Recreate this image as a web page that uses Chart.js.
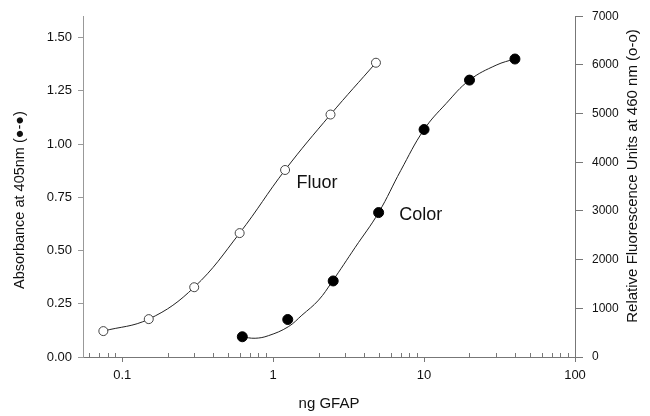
<!DOCTYPE html>
<html>
<head>
<meta charset="utf-8">
<script src="https://cdn.jsdelivr.net/npm/chart.js@4"></script>
<style>
  html,body{margin:0;padding:0;background:#fff;}
  #wrap{width:650px;height:416px;position:relative;}
</style>
</head>
<body>
<div id="wrap"><canvas id="c" width="650" height="416"></canvas></div>
<script>
// ---- data ----
const fluorDose = [0.075, 0.15, 0.3, 0.6, 1.2, 2.4, 4.8];
const fluorRFU  = [532, 778, 1433, 2545, 3841, 4980, 6044];

const colorDose = [0.625, 1.25, 2.5, 5, 10, 20, 40];
const colorAbs  = [0.095, 0.176, 0.357, 0.678, 1.068, 1.30, 1.399];

// fitted curve
const colorCurveDose = [0.62, 0.76, 0.93, 1.26, 1.55, 2.0, 2.45, 3.5, 5, 7, 10, 14, 20, 30, 40];
const colorCurveAbs  = [0.095, 0.088, 0.10, 0.142, 0.196, 0.267, 0.352, 0.515, 0.678, 0.875, 1.068, 1.19, 1.30, 1.37, 1.40];

// axis ticks
const xTicks = [0.1, 1, 10, 100];
const xMinorTicks = [0.06,0.07,0.08,0.09, 0.2,0.3,0.4,0.5,0.6,0.7,0.8,0.9, 2,3,4,5,6,7,8,9, 20,30,40,50,60,70,80,90];
const leftTicks = [0, 0.25, 0.5, 0.75, 1.0, 1.25, 1.5];
const rightTicks = [0, 1000, 2000, 3000, 4000, 5000, 6000, 7000];

// text labels in the plot
const noteText = ['Fluor', 'Color'];
const noteDose = [1.95, 9.5];
const noteAbs  = [0.815, 0.665];

const FONT = "'Liberation Sans', Arial, Helvetica, sans-serif";
const AXIS = '#777';

const pts = (xs, ys) => xs.map((x, i) => ({x: x, y: ys[i]}));

const decor = {
  id: 'decor',
  afterDraw(chart) {
    const {ctx, chartArea, scales} = chart;
    const x = scales.x, y = scales.y;
    ctx.save();
    ctx.strokeStyle = AXIS; ctx.lineWidth = 1;
    ctx.beginPath();
    xMinorTicks.forEach(v => {
      if (v < x.min || v > x.max) return;
      const px = Math.round(x.getPixelForValue(v)) + 0.5;
      ctx.moveTo(px, chartArea.bottom);
      ctx.lineTo(px, chartArea.bottom - 4);
    });
    ctx.stroke();
    ctx.fillStyle = '#111';
    ctx.font = '18px ' + FONT;
    ctx.textAlign = 'center'; ctx.textBaseline = 'middle';
    noteText.forEach((t, i) => {
      ctx.fillText(t, x.getPixelForValue(noteDose[i]), y.getPixelForValue(noteAbs[i]));
    });
    ctx.font = '15px ' + FONT;
    ctx.fillText('ng GFAP', (chartArea.left + chartArea.right) / 2, 404);
    ctx.save();
    ctx.translate(20, 200); ctx.rotate(-Math.PI / 2);
    ctx.font = '14.5px ' + FONT;
    ctx.fillText('Absorbance at 405nm (\u25CF-\u25CF)', 0, 0);
    ctx.restore();
    ctx.save();
    ctx.translate(633, 176); ctx.rotate(-Math.PI / 2);
    ctx.font = '15px ' + FONT;
    ctx.fillText('Relative Fluorescence Units at 460 nm (o-o)', 0, 0);
    ctx.restore();
    ctx.restore();
  }
};

new Chart(document.getElementById('c'), {
  type: 'line',
  data: {
    datasets: [
      { label: 'Color points', data: pts(colorDose, colorAbs), yAxisID: 'y',
        pointRadius: 5, pointBackgroundColor: '#000', pointBorderColor: '#000', pointBorderWidth: 1, showLine: false },
      { label: 'Fluor points', data: pts(fluorDose, fluorRFU), yAxisID: 'y2',
        pointRadius: 4.5, pointBackgroundColor: '#fff', pointBorderColor: '#444', pointBorderWidth: 1, showLine: false },
      { label: 'Color curve', data: pts(colorCurveDose, colorCurveAbs), yAxisID: 'y',
        showLine: true, pointRadius: 0, borderColor: '#222', borderWidth: 1, tension: 0.4, fill: false },
      { label: 'Fluor curve', data: pts(fluorDose, fluorRFU), yAxisID: 'y2',
        showLine: true, pointRadius: 0, borderColor: '#222', borderWidth: 1, tension: 0.4, fill: false }
    ]
  },
  options: {
    responsive: false,
    animation: false,
    devicePixelRatio: 1,
    layout: { padding: { top: 15, left: 0, right: 0, bottom: 0 } },
    plugins: { legend: { display: false }, tooltip: { enabled: false } },
    scales: {
      x: {
        type: 'logarithmic', position: 'bottom', min: 0.055, max: 100,
        afterBuildTicks: s => { s.ticks = xTicks.map(v => ({value: v})); },
        afterFit: s => { s.height = 59; },
        ticks: { color: '#111', font: { size: 13, family: FONT }, padding: 6, maxRotation: 0,
                 callback: v => String(v) },
        grid: { display: true, drawOnChartArea: false, drawTicks: true, tickLength: 5, color: AXIS },
        border: { display: true, color: AXIS, width: 1 },
        title: { display: false }
      },
      y: {
        type: 'linear', position: 'left', min: 0, max: 1.6,
        afterBuildTicks: s => { s.ticks = leftTicks.map(v => ({value: v})); },
        afterFit: s => { s.width = 83; },
        ticks: { color: '#111', font: { size: 13, family: FONT }, padding: 6,
                 callback: v => Number(v).toFixed(2) },
        grid: { display: true, drawOnChartArea: false, drawTicks: true, tickLength: 5, color: '#999' },
        border: { display: true, color: '#999', width: 1 },
        title: { display: false }
      },
      y2: {
        type: 'linear', position: 'right', min: 0, max: 7000,
        afterBuildTicks: s => { s.ticks = rightTicks.map(v => ({value: v})); },
        afterFit: s => { s.width = 75; },
        ticks: { color: '#111', font: { size: 12, family: FONT }, padding: 9,
                 callback: v => String(v) },
        grid: { display: true, drawOnChartArea: false, drawTicks: true, tickLength: 8, color: AXIS },
        border: { display: true, color: AXIS, width: 1 },
        title: { display: false }
      }
    }
  },
  plugins: [decor]
});
</script>
</body>
</html>
